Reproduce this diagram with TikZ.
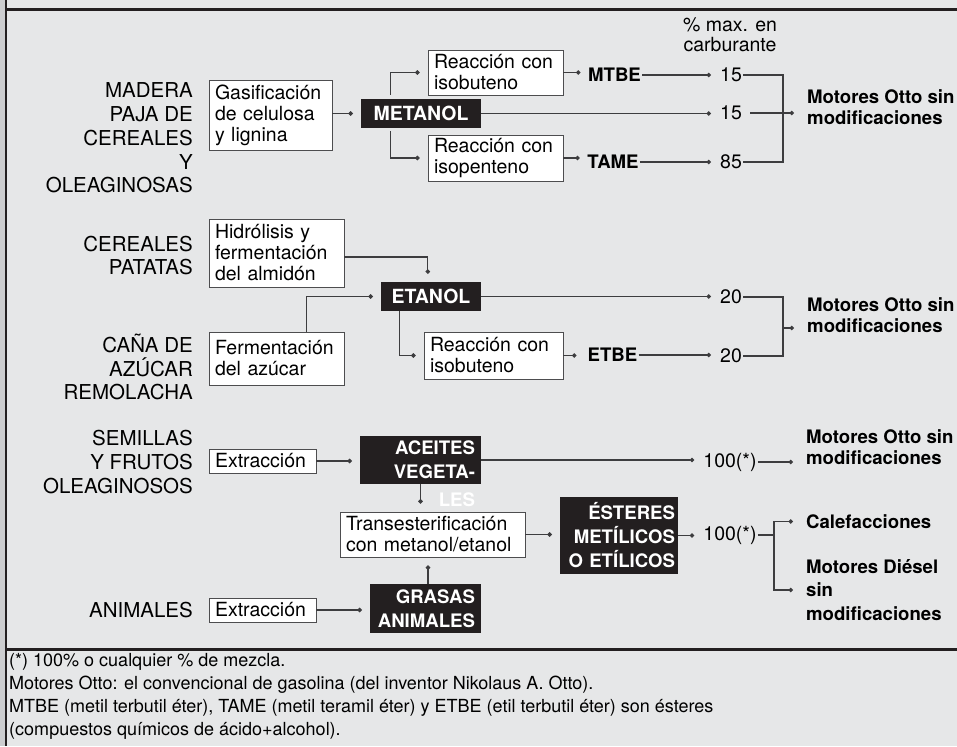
\documentclass[tikz,border=0pt]{standalone}
\usepackage{fontspec}
\setmainfont{TeX Gyre Heros}
\newfontfamily\notefont{TeX Gyre Heros}
\usetikzlibrary{arrows.meta,calc,positioning}

\definecolor{panel}{HTML}{E6E7E8}
\definecolor{strip}{HTML}{CCCDCF}
\definecolor{ink}{HTML}{231F20}
\definecolor{wirec}{HTML}{3D3D3F}
\definecolor{boxline}{HTML}{4D4D4F}

\newcommand{\srcfont}{\fontsize{20.5}{23.75}\selectfont}
\newcommand{\procfont}{\fontsize{19.5}{21}\selectfont}
\newcommand{\chemfont}{\fontsize{18.6}{24}\selectfont\bfseries}
\newcommand{\alcfont}{\fontsize{19.5}{24}\selectfont\bfseries}
\newcommand{\appfont}{\fontsize{18.6}{21}\selectfont\bfseries}
\newcommand{\pctfont}{\fontsize{19.5}{20}\selectfont}
\newcommand{\notesize}{\notefont\fontsize{18}{23}\selectfont}

\tikzset{
  proc/.style={draw=boxline, fill=white, line width=0.9pt, font=\procfont,
    align=left, inner xsep=6pt, inner ysep=0pt},
  chem/.style={fill=ink, text=white, font=\chemfont, align=right,
    inner xsep=6pt, inner ysep=0pt},
  src/.style={font=\srcfont, align=right, anchor=east, inner sep=0pt},
  usage/.style={font=\appfont, align=left, anchor=west, inner sep=0pt},
  pct/.style={font=\pctfont, inner sep=1pt},
  ether/.style={font=\appfont, inner sep=1pt},
  wire/.style={draw=wirec, line width=1.1pt},
  feed/.style={wire, -{Circle[length=4.4pt]}, shorten >=#1},
  feed/.default=8pt
}

\begin{document}
\begin{tikzpicture}[x=1pt, y=-1pt]
\useasboundingbox (0,0) rectangle (957,746);
% frame
\fill[panel] (0,0) rectangle (957,746);
\fill[strip] (0,0) rectangle (4.8,746);
\draw[ink, line width=2.6pt] (6,0) -- (6,746);
\draw[ink, line width=2.4pt] (6,9.5) -- (957,9.5);
\draw[ink, line width=2.4pt] (6,649.5) -- (957,649.5);

% metanol
\node[src] (src1) at (193,138) {MADERA\\PAJA DE\\CEREALES\\Y\\OLEAGINOSAS};
\node[proc, text width=111pt, minimum height=70pt] (gas) at (270.5,115) {Gasificación\\de celulosa\\y lignina};
\node[chem, font=\alcfont, align=center, text width=108pt, minimum height=29pt] (metanol) at (421,113.5) {METANOL};
\node[proc, text width=123pt, minimum height=45pt] (rmtbe) at (495.5,72.5) {Reacción con\\isobuteno};
\node[proc, text width=123pt, minimum height=46pt] (rtame) at (495.5,158) {Reacción con\\isopenteno};
\node[ether] (mtbe) at (614.5,75) {MTBE};
\node[ether] (tame) at (613,162) {TAME};
\node[pct, align=center] (head) at (730,35) {\% max. en\\carburante};
\node[pct] (p1) at (731,75) {15};
\node[pct] (p2) at (731,113) {15};
\node[pct] (p3) at (731,162) {85};
\node[usage] (mto1) at (807,107) {Motores Otto sin\\modificaciones};

\draw[feed] (metanol.west -| gas.east) -- (metanol.west);
\draw[feed] ([xshift=30pt,yshift=4pt]metanol.north west) |- (rmtbe.west);
\draw[feed] ([xshift=30pt,yshift=-3pt]metanol.south west) |- (rtame.west);
\draw[feed=6.5pt] (rmtbe.east) -- (rmtbe.east -| mtbe.west);
\draw[feed=6.5pt] (rtame.east) -- (rtame.east -| tame.west);
\draw[feed] (mtbe.east) -- (mtbe.east -| p1.west);
\draw[feed] (tame.east) -- (tame.east -| p3.west);
\draw[feed] (metanol.east) -- (metanol.east -| p2.west);
\coordinate (j1) at (783,113);
\draw[wire] (p1.east) -| (j1) |- (p3.east);
\draw[feed=13pt] ([xshift=7pt]p2.east) -- (p2.east -| mto1.west);

% etanol
\node[src] (src2) at (193,255.5) {CEREALES\\PATATAS};
\node[src] (src3) at (193,367) {CAÑA DE\\AZÚCAR\\REMOLACHA};
\node[proc, text width=123pt, minimum height=68pt] (hidro) at (276.5,253) {Hidrólisis y\\fermentación\\del almidón};
\node[proc, text width=123pt, minimum height=53pt] (ferm) at (276.5,358.5) {Fermentación\\del azúcar};
\node[chem, font=\alcfont, align=center, text width=88pt, minimum height=29pt] (etanol) at (431,296.5) {ETANOL};
\node[proc, text width=127pt, minimum height=47pt] (retbe) at (493.5,355.5) {Reacción con\\isobuteno};
\node[ether] (etbe) at (612.5,355) {ETBE};
\node[pct] (p4) at (731,297) {20};
\node[pct] (p5) at (731,356) {20};
\node[usage] (mto2) at (807,315) {Motores Otto sin\\modificaciones};

\draw[feed] ([yshift=-4pt]hidro.east) -| ([xshift=47pt]etanol.north west);
\draw[feed] ([xshift=98pt]ferm.north west) |- (etanol.west);
\draw[feed] (etanol.east) -- (etanol.east -| p4.west);
\draw[feed] ([xshift=19pt]etanol.south west) |- (retbe.west);
\draw[feed=10pt] (retbe.east) -- (retbe.east -| etbe.west);
\draw[feed] (etbe.east) -- (etbe.east -| p5.west);
\coordinate (j2) at (783,328);
\draw[wire] (p4.east) -| (j2) |- (p5.east);
\draw[feed=13pt] (j2) -- (j2 -| mto2.west);

% aceites y grasas
\node[src] (src4) at (193,462) {SEMILLAS\\Y FRUTOS\\OLEAGINOSOS};
\node[src] (src5) at (193,610.5) {ANIMALES};
\node[proc, text width=95pt, minimum height=24pt] (extr1) at (262.5,461) {Extracción};
\node[proc, text width=95pt, minimum height=24pt] (extr2) at (262.5,610) {Extracción};
\node[chem, text width=109pt, minimum height=48pt] (aceites) at (420.5,460) {ACEITES\\VEGETA-};
\node[font=\chemfont, text=white, anchor=north east, inner sep=0pt] (les) at ([xshift=-6pt,yshift=-8pt]aceites.south east) {LES};
\node[proc, text width=173pt, minimum height=45pt] (trans) at (432.5,534.5) {Transesterificación\\con metanol/etanol};
\node[chem, text width=99pt, minimum height=49pt] (grasas) at (425.5,608.5) {GRASAS\\ANIMALES};
\node[chem, inner xsep=3pt, text width=112pt, minimum height=77pt] (esteres) at (619,535.5) {ÉSTERES\\METÍLICOS\\O ETÍLICOS};
\node[pct] (p6) at (730,462) {100(*)};
\node[pct] (p7) at (730,535) {100(*)};
\node[usage] (mto3) at (806,447.5) {Motores Otto sin\\modificaciones};
\node[usage] (calef) at (806,521.5) {Calefacciones};
\node[usage, font=\fontsize{18.6}{23.5}\selectfont\bfseries] (diesel) at (806,590) {Motores Diésel\\sin\\modificaciones};

\draw[feed] (extr1.east) -- (extr1.east -| aceites.west);
\draw[feed] (aceites.east) -- (aceites.east -| p6.west);
\draw[feed=13pt] (p6.east) -- (p6.east -| mto3.west);
\draw[feed] (aceites.south) -- (aceites.south |- trans.north);
\draw[feed] ([xshift=2.5pt]grasas.north) -- ([xshift=2.5pt]grasas.north |- trans.south);
\draw[feed] (extr2.east) -- (extr2.east -| grasas.west);
\draw[feed] (trans.east) -- (trans.east -| esteres.west);
\draw[feed] (esteres.east) -- (esteres.east -| p7.west);
\coordinate (j3) at (774,535);
\draw[wire] (p7.east) -- (j3);
\draw[feed=13pt] (j3) |- (calef.west);
\draw[feed=13pt] (j3) |- (diesel.west);

% notas
\node[font=\notesize, align=left, anchor=north west, inner sep=0pt] (notes) at (9,653)
  {(*) 100\% o cualquier \% de mezcla.\\
   Motores Otto: el convencional de gasolina (del inventor Nikolaus A. Otto).\\
   MTBE (metil terbutil éter), TAME (metil teramil éter) y ETBE (etil terbutil éter) son ésteres\\
   (compuestos químicos de ácido+alcohol).};
\end{tikzpicture}
\end{document}
